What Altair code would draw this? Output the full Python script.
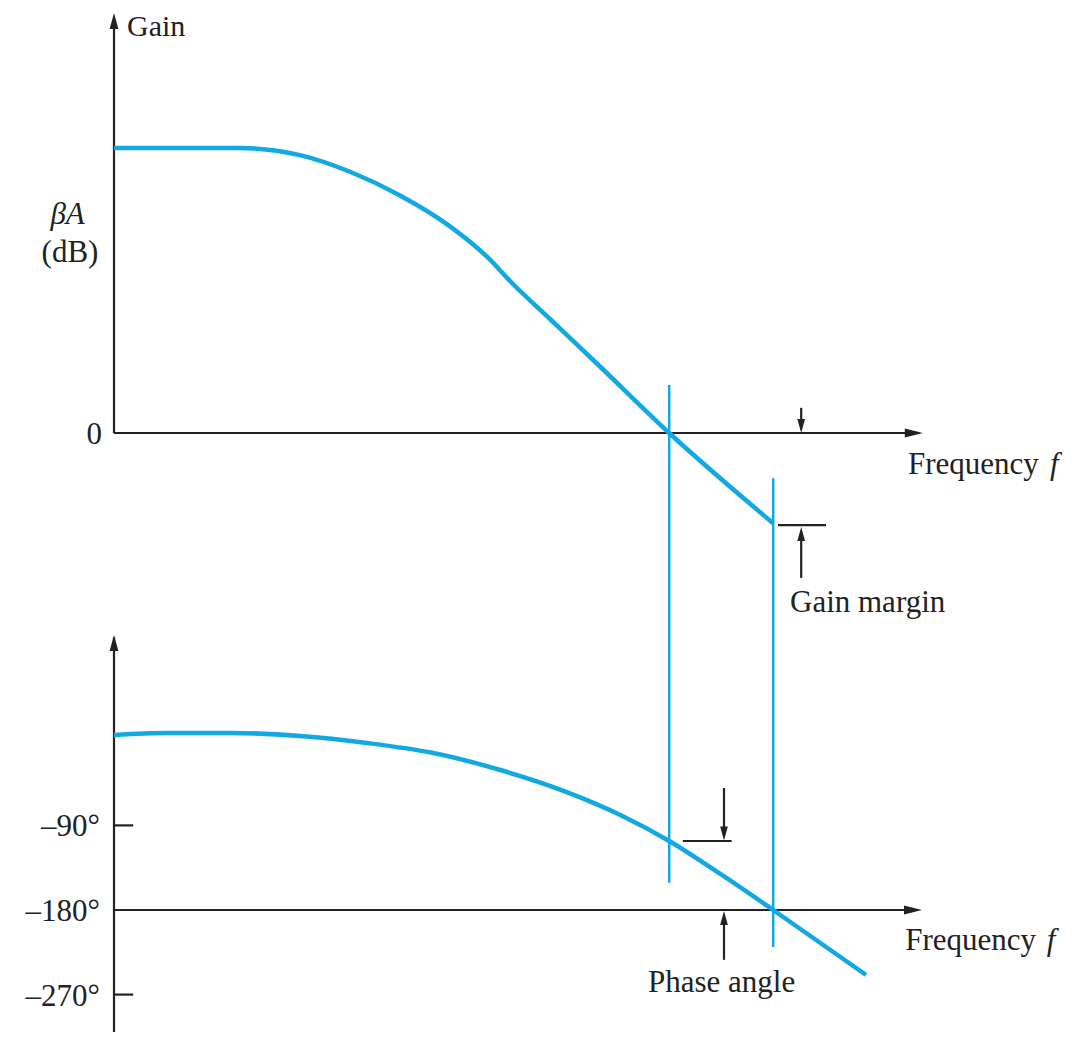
import altair as alt
import pandas as pd

# ---------------- data ----------------
# Gain curve: frequency (arbitrary units) vs loop gain beta*A (dB)
gain_freq = [0, 0.8, 1.575, 2.325, 2.95, 3.575, 4.2, 4.7, 4.95, 5.45, 6.075, 6.94, 8.24]
gain_db = [60, 60, 60, 58.5, 55, 50, 43.5, 36.5, 32, 24, 14, 0, -19]

# Phase curve: frequency vs phase (degrees)
phase_freq = [0, 0.66, 1.49, 2.33, 3.16, 3.99, 4.83, 5.66, 6.33, 6.94, 7.58, 8.24, 9.4]
phase_deg = [6.2, 8.3, 8.3, 5.1, -2.3, -13, -31.1, -54.5, -78.9, -106.6, -141.7, -180, -249.1]

# Crossover frequency markers (0 dB crossing and -180 deg crossing)
crossover_freq = [6.94, 8.24]
crossover_top_db = [10.1, -9.5]
crossover_bottom_db = [-94.7, -108.2]

# Phase axis ticks
phase_ticks = [-90, -180, -270]
phase_tick_labels = ["\u201390\u00b0", "\u2013180\u00b0", "\u2013270\u00b0"]

# Margins read at the marker frequencies
gain_margin_db = -19.4
gain_margin_freq = 8.59
phase_at_crossover = -106.6
phase_margin_freq = 7.625

# ---------------- scales ----------------
X_DOMAIN = [-1.325, 12.0]
GAIN_DOMAIN = [-126.1, 89.47]
PHASE_DOMAIN = [-309.8, 779.6]
W, H = 1066, 1024

INK = "#222222"
CYAN = "#12a9e3"
FONT = "Liberation Serif"
FS = 31

UP = "M0,0L-0.55,2L0.55,2Z"
DOWN = "M0,0L-0.55,-2L0.55,-2Z"
RIGHT = "M0,0L-2,-0.5L-2,0.5Z"


def X(f="x"):
    return alt.X(f, type="quantitative",
                 scale=alt.Scale(domain=X_DOMAIN, nice=False, zero=False), axis=None)


def X2(f="x2"):
    return alt.X2(f)


def YG(f="y"):
    return alt.Y(f, type="quantitative",
                 scale=alt.Scale(domain=GAIN_DOMAIN, nice=False, zero=False), axis=None)


def YP(f="y"):
    return alt.Y(f, type="quantitative",
                 scale=alt.Scale(domain=PHASE_DOMAIN, nice=False, zero=False), axis=None)


SHAPE = alt.Shape("d:N", scale=alt.Scale(domain=["up", "down", "right"],
                                         range=[UP, DOWN, RIGHT]), legend=None)

# ---------------- tables ----------------
gain_df = pd.DataFrame({"x": gain_freq, "y": gain_db})
phase_df = pd.DataFrame({"x": phase_freq, "y": phase_deg})
guide_df = pd.DataFrame({"x": crossover_freq, "y": crossover_top_db, "y2": crossover_bottom_db})

gain_seg = pd.DataFrame([
    {"x": 0, "x2": 0, "y": 0, "y2": 86},                       # gain axis
    {"x": 0, "x2": 10.0, "y": 0, "y2": 0},                      # frequency axis
    {"x": 8.3, "x2": 8.9, "y": gain_margin_db, "y2": gain_margin_db},
    {"x": gain_margin_freq, "x2": gain_margin_freq, "y": 5.3, "y2": 2},
    {"x": gain_margin_freq, "x2": gain_margin_freq, "y": -30.5, "y2": -21.5},
])
gain_heads = pd.DataFrame([
    {"x": 0, "y": 88.4, "d": "up", "s": 256},
    {"x": 10.11, "y": 0, "d": "right", "s": 324},
    {"x": gain_margin_freq, "y": 0, "d": "down", "s": 196},
    {"x": gain_margin_freq, "y": gain_margin_db - 0.4, "d": "up", "s": 196},
])

phase_seg = pd.DataFrame([
    {"x": 0, "x2": 0, "y": -309.8, "y2": 110},                 # phase axis
    {"x": 0, "x2": 10.0, "y": -180, "y2": -180},                # frequency axis
    {"x": 0, "x2": 0.24, "y": -90, "y2": -90},
    {"x": 0, "x2": 0.24, "y": -270, "y2": -270},
    {"x": 7.11, "x2": 7.72, "y": phase_at_crossover, "y2": phase_at_crossover},
    {"x": phase_margin_freq, "x2": phase_margin_freq, "y": -50.2, "y2": -95},
    {"x": phase_margin_freq, "x2": phase_margin_freq, "y": -233, "y2": -190},
])
phase_heads = pd.DataFrame([
    {"x": 0, "y": 112.6, "d": "up", "s": 256},
    {"x": 10.1, "y": -180, "d": "right", "s": 324},
    {"x": phase_margin_freq, "y": phase_at_crossover + 0.6, "d": "down", "s": 196},
    {"x": phase_margin_freq, "y": -181.2, "d": "up", "s": 196},
])

# ---------------- layers ----------------
def seg_layer(df, Y):
    return alt.Chart(df).mark_rule(color=INK, strokeWidth=2.2).encode(
        x=X("x"), x2=X2("x2"), y=Y("y"), y2=alt.Y2("y2"))


def head_layer(df, Y):
    return alt.Chart(df).mark_point(filled=True, color=INK, opacity=1, strokeWidth=0).encode(
        x=X("x"), y=Y("y"), shape=SHAPE, size=alt.Size("s:Q", scale=None, legend=None))


def text_layer(df, Y, align="left", italic=False, dy=0, fs=FS):
    kw = dict(font=FONT, fontSize=fs, color=INK, align=align, baseline="alphabetic", dy=dy)
    if italic:
        kw["fontStyle"] = "italic"
    return alt.Chart(df).mark_text(**kw).encode(x=X("x"), y=Y("y"), text="t:N")


gain_line = alt.Chart(gain_df).mark_line(color=CYAN, strokeWidth=4.5,
                                         interpolate="monotone").encode(x=X("x"), y=YG("y"))
phase_line = alt.Chart(phase_df).mark_line(color=CYAN, strokeWidth=4.5,
                                           interpolate="monotone").encode(x=X("x"), y=YP("y"))
guides = alt.Chart(guide_df).mark_rule(color=CYAN, strokeWidth=2.5).encode(
    x=X("x"), y=YG("y"), y2=alt.Y2("y2"))

gain_title = text_layer(pd.DataFrame([
    {"x": 0.1625, "y": 83.6, "t": "Gain"},
]), YG, fs=30)
gain_text_left = text_layer(pd.DataFrame([
    {"x": 9.925, "y": -8.6, "t": "Frequency"},
    {"x": 8.45, "y": -37.7, "t": "Gain margin"},
]), YG)
gain_text_italic = text_layer(pd.DataFrame([
    {"x": 11.7, "y": -8.6, "t": "f"},
]), YG, italic=True)
gain_label_beta = text_layer(pd.DataFrame([
    {"x": -0.58, "y": 44.0, "t": "\u03b2A"},
]), YG, align="center", italic=True)
gain_label_db = text_layer(pd.DataFrame([
    {"x": -0.55, "y": 36.0, "t": "(dB)"},
]), YG, align="center")
gain_zero = text_layer(pd.DataFrame([
    {"x": -0.15, "y": 0, "t": "0"},
]), YG, align="right", dy=11)

phase_text_left = text_layer(pd.DataFrame([
    {"x": 9.89, "y": -222.6, "t": "Frequency"},
    {"x": 6.675, "y": -267.2, "t": "Phase angle"},
]), YP)
phase_text_italic = text_layer(pd.DataFrame([
    {"x": 11.66, "y": -222.6, "t": "f"},
]), YP, italic=True)
phase_tick_text = text_layer(pd.DataFrame({"x": [-0.175] * 3, "y": phase_ticks,
                                           "t": phase_tick_labels}), YP, align="right", dy=11)

chart = alt.layer(
    guides,
    seg_layer(gain_seg, YG), head_layer(gain_heads, YG),
    seg_layer(phase_seg, YP), head_layer(phase_heads, YP),
    gain_line, phase_line,
    gain_title, gain_text_left, gain_text_italic, gain_label_beta, gain_label_db, gain_zero,
    phase_text_left, phase_text_italic, phase_tick_text,
).resolve_scale(y="independent").properties(
    width=W, height=H, padding=0, autosize=alt.AutoSizeParams(type="none"),
    background="white",
).configure_view(stroke=None)

chart.save("out.html", embed_options={"renderer": "svg", "actions": False})
